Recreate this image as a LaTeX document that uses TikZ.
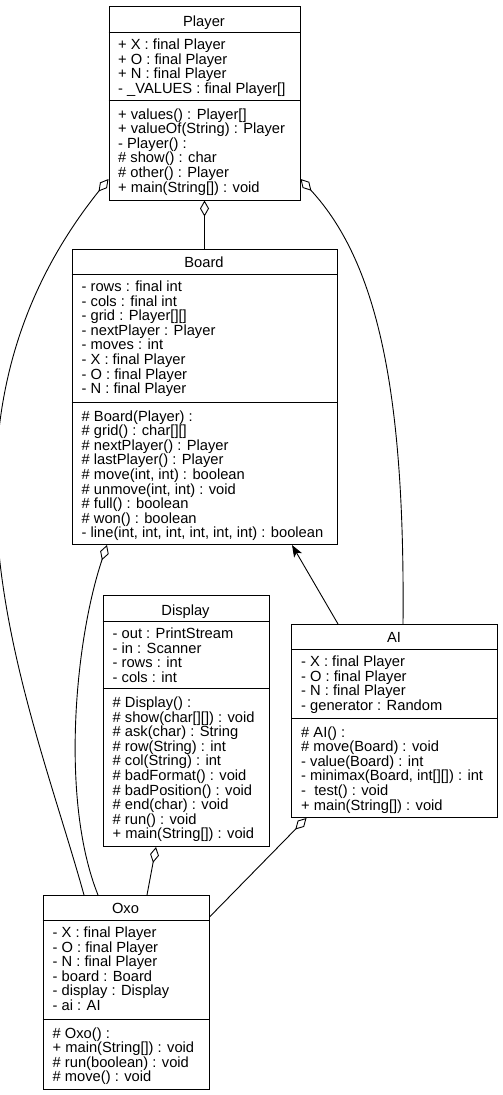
\documentclass[tikz,border=0pt]{standalone}
\usepackage{fontspec}
\setmainfont{Liberation Sans}
\usetikzlibrary{arrows.meta}
\newcommand\umlfont{\fontsize{14.7}{14.6}\selectfont}
\begin{document}
\begin{tikzpicture}[x=1pt,y=-1pt,
  classbox/.style={draw=black, line width=1pt, fill=white, anchor=north west, inner sep=0pt},
  rule/.style={draw=black, line width=1pt},
  title/.style={anchor=base, inner sep=0pt, font=\umlfont},
  member/.style={anchor=base west, inner sep=0pt, font=\umlfont},
  link/.style={draw=black, line width=0.9pt},
  agg/.style={link, arrows={Diamond[fill=white,length=16pt,width=9pt]-}},
  dep/.style={link, arrows={-Stealth[length=12pt,width=9pt,inset=3pt]}}]

\fill[white] (0,0) rectangle (503,1095);
\useasboundingbox (0,0) rectangle (503,1095);

% ---- Player ----
\node[classbox, minimum width=191pt, minimum height=194pt] (player) at (108.5,5.5) {};
\draw[rule] (108.5,32.5) -- (299.5,32.5);
\draw[rule] (108.5,100.5) -- (299.5,100.5);
\node[title] (player-name) at (204,26) {Player};
\foreach \s [count=\k] in {+ X : final Player, + O : final Player, + N : final Player,
    - \_VALUES : final Player[]}
  \node[member] (player-a\k) at (118,{49.5+14.6*(\k-1)}) {\s};
\foreach \s [count=\k] in {+ values() : Player[], + valueOf(String) : Player, - Player() :,
    \# show() : char, \# other() : Player, + main(String[]) : void}
  \node[member] (player-m\k) at (118,{119+14.6*(\k-1)}) {\s};

% ---- Board ----
\node[classbox, minimum width=265pt, minimum height=295pt] (board) at (71.5,249) {};
\draw[rule] (71.5,274) -- (336.5,274);
\draw[rule] (71.5,402) -- (336.5,402);
\node[title] (board-name) at (204,267.7) {Board};
\foreach \s [count=\k] in {- rows : final int, - cols : final int, - grid : Player[][],
    - nextPlayer : Player, - moves : int, - X : final Player, - O : final Player,
    - N : final Player}
  \node[member] (board-a\k) at (81.5,{291.5+14.6*(\k-1)}) {\s};
\foreach \s [count=\k] in {\# Board(Player) :, \# grid() : char[][], \# nextPlayer() : Player,
    \# lastPlayer() : Player, {\# move(int, int) : boolean}, {\# unmove(int, int) : void},
    \# full() : boolean, \# won() : boolean, {- line(int, int, int, int, int, int) : boolean}}
  \node[member] (board-m\k) at (81.5,{421+14.6*(\k-1)}) {\s};

% ---- Display ----
\node[classbox, minimum width=166pt, minimum height=251pt] (display) at (102.5,595) {};
\draw[rule] (102.5,621) -- (268.5,621);
\draw[rule] (102.5,688.5) -- (268.5,688.5);
\node[title] (display-name) at (185.5,615.5) {Display};
\foreach \s [count=\k] in {- out : PrintStream, - in : Scanner, - rows : int, - cols : int}
  \node[member] (display-a\k) at (112.5,{638.5+14.6*(\k-1)}) {\s};
\foreach \s [count=\k] in {\# Display() :, \# show(char[][]) : void, \# ask(char) : String,
    \# row(String) : int, \# col(String) : int, \# badFormat() : void,
    \# badPosition() : void, \# end(char) : void, \# run() : void, + main(String[]) : void}
  \node[member] (display-m\k) at (112.5,{707.5+14.6*(\k-1)}) {\s};

% ---- AI ----
\node[classbox, minimum width=206pt, minimum height=193pt] (ai) at (291,624) {};
\draw[rule] (291,649) -- (497,649);
\draw[rule] (291,718) -- (497,718);
\node[title] (ai-name) at (394,642.5) {AI};
\foreach \s [count=\k] in {- X : final Player, - O : final Player, - N : final Player,
    - generator : Random}
  \node[member] (ai-a\k) at (301,{666.5+14.6*(\k-1)}) {\s};
\foreach \s [count=\k] in {\# AI() :, \# move(Board) : void, - value(Board) : int,
    {- minimax(Board, int[][]) : int}, -~~test() : void, + main(String[]) : void}
  \node[member] (ai-m\k) at (301,{737+14.6*(\k-1)}) {\s};

% ---- Oxo ----
\node[classbox, minimum width=166pt, minimum height=194pt] (oxo) at (42.5,895) {};
\draw[rule] (42.5,920) -- (208.5,920);
\draw[rule] (42.5,1019) -- (208.5,1019);
\node[title] (oxo-name) at (125.5,913.5) {Oxo};
\foreach \s [count=\k] in {- X : final Player, - O : final Player, - N : final Player,
    - board : Board, - display : Display, - ai : AI}
  \node[member] (oxo-a\k) at (52.5,{937.5+14.6*(\k-1)}) {\s};
\foreach \s [count=\k] in {\# Oxo() :, + main(String[]) : void, \# run(boolean) : void,
    \# move() : void}
  \node[member] (oxo-m\k) at (52.5,{1038+14.6*(\k-1)}) {\s};

% ---- associations ----
\draw[agg] (player.south) -- (board.north);
\draw[agg] ([yshift=21.5pt]player.south west) .. controls (-92,430) and (30,700) .. ([xshift=41.5pt]oxo.north west);
\draw[agg] ([yshift=21.5pt]player.south east) .. controls (380,265) and (405,400) .. ([xshift=112pt]ai.north west);
\draw[agg] ([xshift=35.5pt]board.south west) .. controls (75,640) and (60,800) .. ([xshift=55.5pt]oxo.north west);
\draw[agg] ([xshift=53.5pt]display.south west) -- ([xshift=104.5pt]oxo.north west);
\draw[agg] ([xshift=15.5pt]ai.south west) -- ([yshift=-22pt]oxo.north east);
\draw[dep] ([xshift=47pt]ai.north west) -- ([xshift=220.5pt]board.south west);
\end{tikzpicture}
\end{document}
